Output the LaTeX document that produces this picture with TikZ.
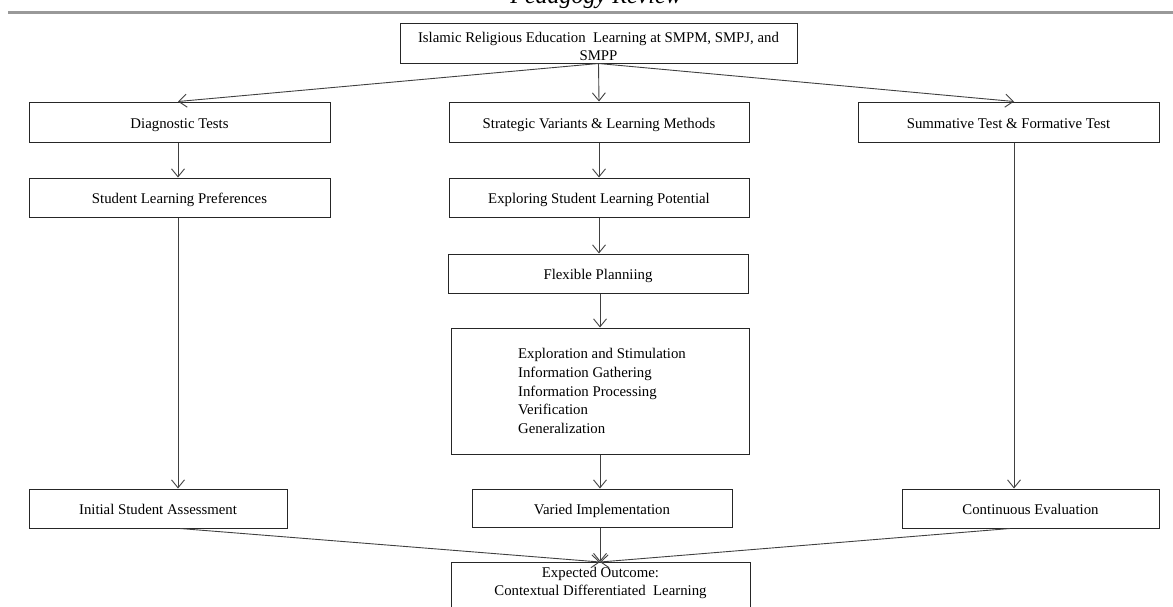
\documentclass[tikz,border=0pt]{standalone}
\usepackage{fontspec}
\setmainfont{Liberation Serif}
\usetikzlibrary{arrows.meta}
\begin{document}
\begin{tikzpicture}[x=1pt,y=-1pt,
  frame/.style={draw=black!85, line width=1pt, fill=white, inner sep=0pt},
  box/.style={frame, align=center, text height=12pt, text depth=0pt,
    font=\fontsize{14.8}{18}\selectfont},
  txt/.style={inner sep=0pt, align=center, font=\fontsize{14.8}{17.5}\selectfont},
  arr/.style={draw=black!75, line width=0.9pt,
    -{Straight Barb[length=8pt,width=13pt,line width=0.9pt]}}]
\useasboundingbox (0,0) rectangle (1173,606);
\clip (0,0) rectangle (1173,606);
% header
\node[anchor=base, font=\itshape\fontsize{24}{24}\selectfont, inner sep=0pt] (hdr) at (596,3) {Pedagogy Review};
\draw[line width=3pt, draw=black!40] (8,12.5) -- (1173,12.5);
% nodes
\node[frame, minimum width=397pt, minimum height=40pt] (top) at (598.5,43) {};
\node[txt] (toptext) at ([yshift=-3.5pt]top.center)
  {Islamic Religious Education~ Learning at SMPM, SMPJ, and\\SMPP};
\node[box, minimum width=301pt, minimum height=40pt] (dt) at (179.5,122) {Diagnostic Tests};
\node[box, minimum width=300pt, minimum height=40pt] (svl) at (599,122) {Strategic Variants \& Learning Methods};
\node[box, minimum width=301pt, minimum height=40pt] (st) at (1008.5,122) {Summative Test \& Formative Test};
\node[box, minimum width=301pt, minimum height=39pt] (slp) at (179.5,197.5) {Student Learning Preferences};
\node[box, minimum width=300pt, minimum height=39pt] (esl) at (599,197.5) {Exploring Student Learning Potential};
\node[box, minimum width=300pt, minimum height=39pt] (fp) at (598,273.5) {Flexible Planniing};
\node[frame, minimum width=298pt, minimum height=126pt] (big) at (600,391) {};
\node[inner sep=0pt, align=left, font=\fontsize{14.8}{18.75}\selectfont] (bigtext)
  at ([xshift=2pt]big.center)
  {Exploration and Stimulation\\Information Gathering\\Information Processing\\Verification\\Generalization};
\node[box, minimum width=258pt, minimum height=39pt] (isa) at (158,508.5) {Initial Student Assessment};
\node[box, minimum width=260pt, minimum height=38pt] (vi) at (602,508) {Varied Implementation};
\node[box, minimum width=257pt, minimum height=39pt] (ce) at (1030.5,508.5) {Continuous Evaluation};
\node[frame, minimum width=299pt, minimum height=56pt, anchor=north] (fin) at (600.5,562) {};
\node[txt, font=\fontsize{14.8}{18}\selectfont] (fintext) at ([yshift=-20.5pt]fin.north)
  {Expected Outcome:\\Contextual Differentiated~ Learning};
% helper columns
\coordinate (rc) at (1014,0);
\coordinate (lc) at (178,0);
\coordinate (cc) at (600,0);
\coordinate (lo) at (180,0);
\coordinate (ro) at (1010,0);
% connectors
\draw[arr] (top.south) -- (dt.north -| lc);
\draw[arr] (top.south) -- (svl.north);
\draw[arr] (top.south) -- (st.north -| rc);
\draw[arr] (dt.south -| lc) -- (slp.north -| lc);
\draw[arr] (slp.south -| lc) -- (isa.north -| lc);
\draw[arr] (svl.south) -- (esl.north);
\draw[arr] (esl.south) -- (fp.north -| esl.south);
\draw[arr] (fp.south -| cc) -- (big.north -| cc);
\draw[arr] (big.south -| cc) -- (vi.north -| cc);
\draw[arr] (st.south -| rc) -- (ce.north -| rc);
\draw[arr] (isa.south -| lo) -- (fin.north -| cc);
\draw[arr] (vi.south -| cc) -- (fin.north -| cc);
\draw[arr] (ce.south -| ro) -- (fin.north -| cc);
\end{tikzpicture}
\end{document}
